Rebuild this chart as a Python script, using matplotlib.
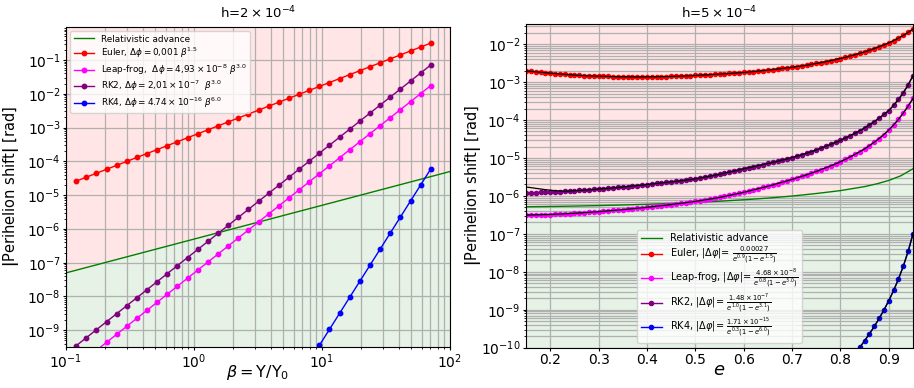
import numpy as np
import matplotlib
matplotlib.use("Agg")
import matplotlib.pyplot as plt
from matplotlib.ticker import LogLocator, NullFormatter

# ---------------- Left panel data (h = 2e-4) ----------------
beta = [0.12, 0.144, 0.1728, 0.2074, 0.2488, 0.2986, 0.3583, 0.43, 0.516, 0.6192,
        0.743, 0.8916, 1.07, 1.284, 1.541, 1.849, 2.219, 2.662, 3.195, 3.834,
        4.601, 5.521, 6.625, 7.95, 9.54, 11.45, 13.74, 16.48, 19.78, 23.74,
        28.49, 34.18, 41.02, 49.22, 59.07, 70.88]
euler_l = [2.60e-5, 3.40e-5, 4.45e-5, 5.83e-5, 7.62e-5, 9.98e-5, 1.306e-4, 1.708e-4, 2.235e-4, 2.925e-4,
           3.828e-4, 5.009e-4, 6.555e-4, 8.578e-4, 1.122e-3, 1.469e-3, 1.921e-3, 2.514e-3, 3.290e-3, 4.305e-3,
           5.634e-3, 7.374e-3, 9.647e-3, 1.262e-2, 1.652e-2, 2.161e-2, 2.828e-2, 3.701e-2, 4.843e-2, 6.338e-2,
           8.293e-2, 0.1085, 0.1420, 0.1858, 0.2431, 0.3181]
leap_l = [8.52e-11, 1.472e-10, 2.544e-10, 4.395e-10, 7.595e-10, 1.312e-9, 2.268e-9, 3.919e-9, 6.77e-9, 1.170e-8,
          2.022e-8, 3.494e-8, 6.04e-8, 1.0435e-7, 1.803e-7, 3.116e-7, 5.385e-7, 9.30e-7, 1.608e-6, 2.778e-6,
          4.80e-6, 8.30e-6, 1.434e-5, 2.477e-5, 4.28e-5, 7.40e-5, 1.2785e-4, 2.209e-4, 3.817e-4, 6.597e-4,
          1.140e-3, 1.970e-3, 3.404e-3, 5.88e-3, 1.016e-2, 1.756e-2]
rk2_l = [3.474e-10, 6.001e-10, 1.037e-9, 1.792e-9, 3.097e-9, 5.351e-9, 9.247e-9, 1.598e-8, 2.760e-8, 4.770e-8,
         8.244e-8, 1.4245e-7, 2.4625e-7, 4.254e-7, 7.351e-7, 1.2704e-6, 2.1955e-6, 3.792e-6, 6.556e-6, 1.1326e-5,
         1.957e-5, 3.384e-5, 5.845e-5, 1.0099e-4, 1.745e-4, 3.017e-4, 5.212e-4, 9.006e-4, 1.5562e-3, 2.690e-3,
         4.648e-3, 8.032e-3, 1.3878e-2, 2.397e-2, 4.142e-2, 7.159e-2]
beta_rk4 = [5.521, 6.625, 7.95, 9.54, 11.45, 13.74, 16.48, 19.78, 23.74, 28.49, 34.18, 41.02, 49.22, 59.07, 70.88]
rk4_l = [1.342e-11, 4.007e-11, 1.197e-10, 3.573e-10, 1.067e-9, 3.186e-9, 9.512e-9, 2.840e-8, 8.482e-8, 2.532e-7,
         7.561e-7, 2.258e-6, 6.741e-6, 2.013e-5, 6.011e-5]
rel_beta = [0.1, 100.0]
rel_l = [5.0e-8, 5.0e-5]

labels_l = ["Relativistic advance",
            r"Euler, $\Delta\phi = 0{,}001\ \beta^{1.5}$",
            r"Leap-frog,  $\Delta\phi = 4{,}93\times10^{-8}\ \beta^{3.0}$",
            r"RK2, $\Delta\phi = 2{,}01\times10^{-7}\ \ \beta^{3.0}$",
            r"RK4, $\Delta\phi = 4.74\times10^{-16}\ \beta^{6.0}$"]

# ---------------- Right panel data (h = 5e-4) ----------------
ecc = [0.15, 0.16, 0.17, 0.18, 0.19, 0.20, 0.21, 0.22, 0.23, 0.24,
       0.25, 0.26, 0.27, 0.28, 0.29, 0.30, 0.31, 0.32, 0.33, 0.34,
       0.35, 0.36, 0.37, 0.38, 0.39, 0.40, 0.41, 0.42, 0.43, 0.44,
       0.45, 0.46, 0.47, 0.48, 0.49, 0.50, 0.51, 0.52, 0.53, 0.54,
       0.55, 0.56, 0.57, 0.58, 0.59, 0.60, 0.61, 0.62, 0.63, 0.64,
       0.65, 0.66, 0.67, 0.68, 0.69, 0.70, 0.71, 0.72, 0.73, 0.74,
       0.75, 0.76, 0.77, 0.78, 0.79, 0.80, 0.81, 0.82, 0.83, 0.84,
       0.85, 0.86, 0.87, 0.88, 0.89, 0.90, 0.91, 0.92, 0.93, 0.94,
       0.95]
euler_r = [1.98e-3, 1.92e-3, 1.87e-3, 1.815e-3, 1.765e-3, 1.72e-3, 1.68e-3, 1.64e-3, 1.60e-3, 1.565e-3,
           1.53e-3, 1.505e-3, 1.48e-3, 1.46e-3, 1.445e-3, 1.43e-3, 1.42e-3, 1.405e-3, 1.395e-3, 1.387e-3,
           1.38e-3, 1.376e-3, 1.373e-3, 1.372e-3, 1.372e-3, 1.374e-3, 1.378e-3, 1.383e-3, 1.39e-3, 1.397e-3,
           1.406e-3, 1.42e-3, 1.436e-3, 1.454e-3, 1.474e-3, 1.496e-3, 1.52e-3, 1.543e-3, 1.568e-3, 1.594e-3,
           1.622e-3, 1.653e-3, 1.686e-3, 1.72e-3, 1.757e-3, 1.795e-3, 1.843e-3, 1.893e-3, 1.948e-3, 2.005e-3,
           2.065e-3, 2.135e-3, 2.21e-3, 2.285e-3, 2.367e-3, 2.455e-3, 2.56e-3, 2.67e-3, 2.79e-3, 2.935e-3,
           3.09e-3, 3.27e-3, 3.46e-3, 3.68e-3, 3.915e-3, 4.17e-3, 4.50e-3, 4.86e-3, 5.28e-3, 5.74e-3,
           6.24e-3, 6.90e-3, 7.65e-3, 8.55e-3, 9.60e-3, 1.081e-2, 1.24e-2, 1.44e-2, 1.69e-2, 2.03e-2,
           2.48e-2]
leap_r = [3.126e-7, 3.148e-7, 3.170e-7, 3.192e-7, 3.214e-7, 3.236e-7, 3.281e-7, 3.327e-7, 3.381e-7, 3.428e-7,
          3.483e-7, 3.548e-7, 3.622e-7, 3.690e-7, 3.767e-7, 3.846e-7, 3.936e-7, 4.036e-7, 4.130e-7, 4.236e-7,
          4.345e-7, 4.467e-7, 4.592e-7, 4.732e-7, 4.864e-7, 5.012e-7, 5.176e-7, 5.346e-7, 5.534e-7, 5.715e-7,
          5.916e-7, 6.138e-7, 6.383e-7, 6.622e-7, 6.887e-7, 7.161e-7, 7.499e-7, 7.870e-7, 8.260e-7, 8.670e-7,
          9.120e-7, 9.683e-7, 1.030e-6, 1.096e-6, 1.167e-6, 1.245e-6, 1.337e-6, 1.439e-6, 1.549e-6, 1.667e-6,
          1.799e-6, 1.950e-6, 2.118e-6, 2.301e-6, 2.500e-6, 2.723e-6, 2.985e-6, 3.281e-6, 3.606e-6, 3.981e-6,
          4.416e-6, 4.932e-6, 5.521e-6, 6.209e-6, 6.998e-6, 7.943e-6, 9.162e-6, 1.064e-5, 1.245e-5, 1.466e-5,
          1.738e-5, 2.118e-5, 2.612e-5, 3.258e-5, 4.150e-5, 5.433e-5, 7.413e-5, 1.047e-4, 1.531e-4, 2.333e-4,
          3.715e-4]
rk2_r = [1.202e-6, 1.211e-6, 1.222e-6, 1.233e-6, 1.245e-6, 1.259e-6, 1.276e-6, 1.297e-6, 1.318e-6, 1.340e-6,
         1.365e-6, 1.390e-6, 1.419e-6, 1.449e-6, 1.479e-6, 1.514e-6, 1.549e-6, 1.589e-6, 1.629e-6, 1.671e-6,
         1.718e-6, 1.766e-6, 1.820e-6, 1.875e-6, 1.932e-6, 1.995e-6, 2.061e-6, 2.128e-6, 2.198e-6, 2.270e-6,
         2.344e-6, 2.427e-6, 2.518e-6, 2.612e-6, 2.710e-6, 2.818e-6, 2.972e-6, 3.141e-6, 3.319e-6, 3.508e-6,
         3.715e-6, 3.972e-6, 4.246e-6, 4.539e-6, 4.853e-6, 5.188e-6, 5.521e-6, 5.888e-6, 6.281e-6, 6.699e-6,
         7.161e-6, 7.656e-6, 8.204e-6, 8.810e-6, 9.484e-6, 1.023e-5, 1.114e-5, 1.216e-5, 1.334e-5, 1.466e-5,
         1.622e-5, 1.811e-5, 2.032e-5, 2.291e-5, 2.582e-5, 2.917e-5, 3.350e-5, 3.864e-5, 4.477e-5, 5.236e-5,
         6.166e-5, 7.447e-5, 9.078e-5, 1.119e-4, 1.403e-4, 1.778e-4, 2.455e-4, 3.508e-4, 5.248e-4, 8.414e-4,
         1.479e-3]
# fitted curve for RK2 differs from the points at small e
rk2_fit_e = [0.15, 0.17, 0.19, 0.21, 0.23]
rk2_fit_head = [1.722e-6, 1.585e-6, 1.462e-6, 1.374e-6, 1.330e-6]
ecc_rk4 = [0.82, 0.83, 0.84, 0.85, 0.86, 0.87, 0.88, 0.89, 0.90, 0.91, 0.92, 0.93, 0.94, 0.95]
rk4_r = [4.677e-11, 6.839e-11, 1.012e-10, 1.528e-10, 2.317e-10, 3.631e-10, 5.888e-10, 9.886e-10, 1.738e-9,
         3.236e-9, 6.457e-9, 1.413e-8, 3.467e-8, 1.000e-7]
rel_e = [0.15, 0.20, 0.25, 0.30, 0.35, 0.40, 0.45, 0.50, 0.55, 0.60, 0.65, 0.70, 0.75, 0.80, 0.85,
         0.875, 0.90, 0.925, 0.95]
rel_r = [5.18e-7, 5.27e-7, 5.40e-7, 5.56e-7, 5.77e-7, 6.02e-7, 6.34e-7, 6.75e-7, 7.25e-7, 7.91e-7, 8.76e-7,
         9.92e-7, 1.157e-6, 1.38e-6, 1.76e-6, 2.08e-6, 2.56e-6, 3.40e-6, 5.19e-6]

labels_r = ["Relativistic advance",
            r"Euler, $|\Delta\varphi|$= $\frac{0.00027}{e^{0.9}(1-e^{1.5})}$",
            r"Leap-frog, $|\Delta\varphi|$= $\frac{4.68\times10^{-8}}{e^{0.8}(1-e^{3.0})}$",
            r"RK2, $|\Delta\varphi|$= $\frac{1.48\times10^{-7}}{e^{1.0}(1-e^{3.1})}$",
            r"RK4, $|\Delta\varphi|$= $\frac{1.71\times10^{-15}}{e^{0.3}(1-e^{6.0})}$"]

colors = ["green", "red", "magenta", "purple", "blue"]

plt.rcParams["font.family"] = ["DejaVu Sans"]
fig = plt.figure(figsize=(9.14, 3.88), dpi=100)
ax1 = fig.add_axes([0.0722, 0.1057, 0.4201, 0.8247])
ax2 = fig.add_axes([0.5755, 0.1039, 0.4234, 0.8343])

ylab = r"$\mathbf{|}$Perihelion shift$\mathbf{|}$ [rad]"

# ---- left ----
y1lo, y1hi = 3.2e-10, 0.95
ax1.fill_between(rel_beta, rel_l, [10.0, 10.0], color="red", alpha=0.1, lw=0, zorder=0)
ax1.fill_between(rel_beta, [1e-14, 1e-14], rel_l, color="green", alpha=0.1, lw=0, zorder=0)
ax1.plot(rel_beta, rel_l, color=colors[0], lw=1, label=labels_l[0])
ax1.plot(beta, euler_l, "-o", color=colors[1], lw=1, ms=3.2, label=labels_l[1])
ax1.plot(beta, leap_l, "-o", color=colors[2], lw=1, ms=3.2, label=labels_l[2])
ax1.plot(beta, rk2_l, "-o", color=colors[3], lw=1, ms=3.2, label=labels_l[3])
ax1.plot(beta_rk4, rk4_l, "-o", color=colors[4], lw=1, ms=3.2, label=labels_l[4])
ax1.set_xscale("log")
ax1.set_yscale("log")
ax1.set_xlim(0.1, 100)
ax1.set_ylim(y1lo, y1hi)
ax1.yaxis.set_major_locator(LogLocator(base=10, numticks=30))
ax1.yaxis.set_minor_locator(LogLocator(base=10, subs=np.arange(2, 10), numticks=30))
ax1.yaxis.set_minor_formatter(NullFormatter())
ax1.grid(True, which="both", axis="x", color="#b0b0b0", lw=0.9)
ax1.grid(True, which="major", axis="y", color="#b0b0b0", lw=0.9)
ax1.set_axisbelow(True)
ax1.tick_params(which="major", labelsize=10, length=2.5, pad=1.2)
ax1.tick_params(which="minor", length=1.5)
ax1.set_xlabel(r"$\beta = $Y/Y$_0$", fontsize=11.5)
ax1.xaxis.set_label_coords(0.5, -0.05)
ax1.set_ylabel(ylab, fontsize=10.5)
ax1.yaxis.set_label_coords(-0.118, 0.5)
ax1.set_title(r"h=$2\times10^{-4}$", fontsize=9.5, pad=6)
ax1.legend(loc="upper left", fontsize=6.4, handlelength=2.3, labelspacing=0.25, borderpad=0.35)

# ---- right ----
y2lo, y2hi = 1e-10, 0.034
ax2.fill_between(rel_e, rel_r, [1.0] * len(rel_e), color="red", alpha=0.1, lw=0, zorder=0)
ax2.fill_between(rel_e, [1e-14] * len(rel_e), rel_r, color="green", alpha=0.1, lw=0, zorder=0)
ax2.plot(rel_e, rel_r, color=colors[0], lw=1, label=labels_r[0])
ax2.plot(ecc, euler_r, "-o", color=colors[1], lw=1, ms=3, label=labels_r[1])
ax2.plot(ecc, leap_r, "-o", color=colors[2], lw=1, ms=3, label=labels_r[2])
ax2.plot(ecc, rk2_r, "-o", color=colors[3], lw=1, ms=3, label=labels_r[3])
ax2.plot(ecc_rk4, rk4_r, "-o", color=colors[4], lw=1, ms=3, label=labels_r[4])
# fitted curves (black)
ax2.plot(ecc, euler_r, color="black", lw=0.9, zorder=5)
ax2.plot(ecc, leap_r, color="black", lw=0.9, zorder=5)
ax2.plot(rk2_fit_e + ecc[9:], rk2_fit_head + rk2_r[9:], color="black", lw=0.9, zorder=5)
ax2.plot(ecc_rk4, rk4_r, color="black", lw=0.9, zorder=5)
ax2.set_yscale("log")
ax2.set_xlim(0.15, 0.95)
ax2.set_ylim(y2lo, y2hi)
ax2.set_xticks([0.2, 0.3, 0.4, 0.5, 0.6, 0.7, 0.8, 0.9])
ax2.yaxis.set_major_locator(LogLocator(base=10, numticks=30))
ax2.yaxis.set_minor_locator(LogLocator(base=10, subs=np.arange(2, 10), numticks=30))
ax2.yaxis.set_minor_formatter(NullFormatter())
ax2.grid(True, which="major", axis="x", color="#b0b0b0", lw=0.9)
ax2.grid(True, which="both", axis="y", color="#b0b0b0", lw=0.9)
ax2.set_axisbelow(True)
ax2.tick_params(which="major", labelsize=10, length=2.5, pad=1.2)
ax2.tick_params(which="minor", length=1.5)
ax2.set_xlabel(r"$e$", fontsize=13)
ax2.xaxis.set_label_coords(0.5, -0.04)
ax2.set_ylabel(ylab, fontsize=10.5)
ax2.yaxis.set_label_coords(-0.112, 0.5)
ax2.set_title(r"h=$5\times10^{-4}$", fontsize=9.5, pad=4)
ax2.legend(loc="lower center", fontsize=7, handlelength=2.2, labelspacing=0.2, borderpad=0.35)

fig.savefig("out.png", dpi=100)
